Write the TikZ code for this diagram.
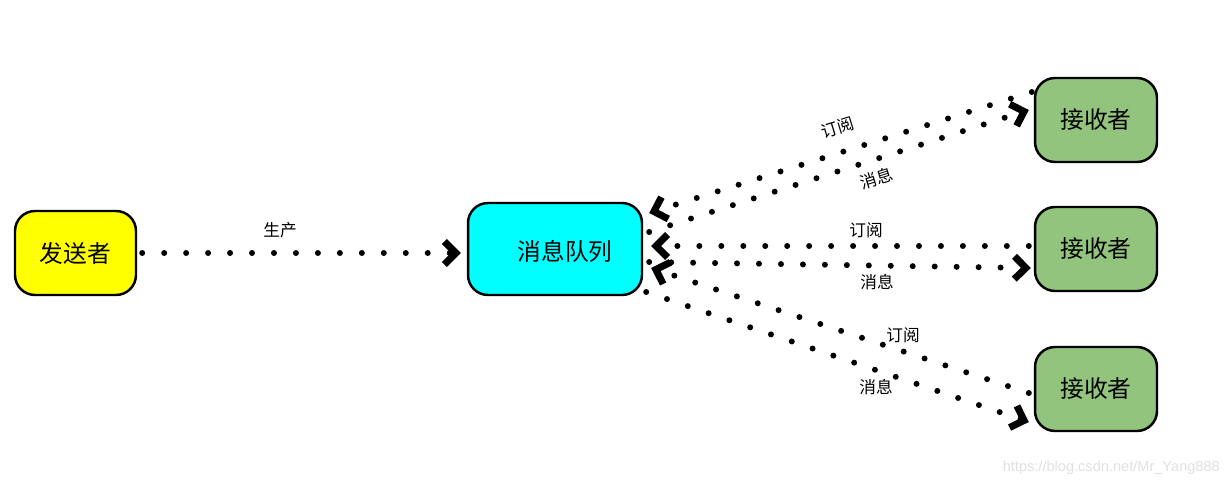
\documentclass[tikz,border=0pt]{standalone}
\usepackage{fontspec}
\setmainfont{Noto Sans CJK SC}
\newfontfamily\wmfont{Liberation Sans}
\usetikzlibrary{arrows.meta,calc}
\definecolor{sendyellow}{RGB}{255,255,0}
\definecolor{queuecyan}{RGB}{0,255,255}
\definecolor{recvgreen}{RGB}{147,196,125}
\tikzset{
  x=0.02cm, y=-0.02cm,
  box/.style={draw=black, line width=1.4pt, rounded corners=0.4cm, font=\fontsize{13.5}{16}\selectfont, inner sep=0pt},
  sendbox/.style={box, fill=sendyellow, minimum width=2.42cm, minimum height=1.68cm},
  queuebox/.style={box, fill=queuecyan, minimum width=3.48cm, minimum height=1.84cm},
  recvbox/.style={box, fill=recvgreen, minimum width=2.44cm, minimum height=1.68cm},
  dotline/.style={line width=3.4pt, line cap=round, dash pattern=on 0pt off 12.5pt,
    -{Straight Barb[length=6.5pt,width=13pt,line width=4pt]}},
  lbl/.style={font=\fontsize{9.5}{11}\selectfont, inner sep=0pt}
}
\begin{document}
\begin{tikzpicture}
\useasboundingbox (0,0) rectangle (1231,486);
\node[sendbox] (s) at (75.5,253) {发送者};
\node[queuebox] (q) at (555,249) {};
\node[font=\fontsize{13.5}{16}\selectfont] (qt) at (565,251) {消息队列};
\node[recvbox] (r1) at (1096,120) {接收者};
\node[recvbox] (r2) at (1096,249) {接收者};
\node[recvbox] (r3) at (1096,389) {接收者};

\draw[dotline] ($(s.east)+(5,0)$) -- ($(q.west)+(-6,4)$);
\node[lbl] (l0) at (280,230) {生产};

\draw[dotline] ($(r1.west)+(-2,-28)$) -- ($(q.east)+(6,-36)$);
\draw[dotline] ($(q.east)+(6,-17)$) -- ($(r1.west)+(-5,-10)$);
\node[lbl, rotate=17] (l1) at (838,128) {订阅};
\node[lbl, rotate=17] (l2) at (877,178) {消息};

\draw[dotline] ($(r2.west)+(-5,-3)$) -- ($(q.east)+(8,-3)$);
\draw[dotline] ($(q.east)+(6,13)$) -- ($(r2.west)+(-3,19)$);
\node[lbl] (l3) at (866,230) {订阅};
\node[lbl] (l4) at (877,282) {消息};

\draw[dotline] ($(r3.west)+(-5,4)$) -- ($(q.east)+(8,19)$);
\draw[dotline] ($(q.east)+(3,43)$) -- ($(r3.west)+(-5,33)$);
\node[lbl] (l5) at (903,335) {订阅};
\node[lbl] (l6) at (876,387) {消息};

\node[font=\wmfont\fontsize{8.3}{10}\selectfont, text=black!12, anchor=east] (wm) at (1226,468) {https://blog.csdn.net/Mr\_Yang888};
\end{tikzpicture}
\end{document}
